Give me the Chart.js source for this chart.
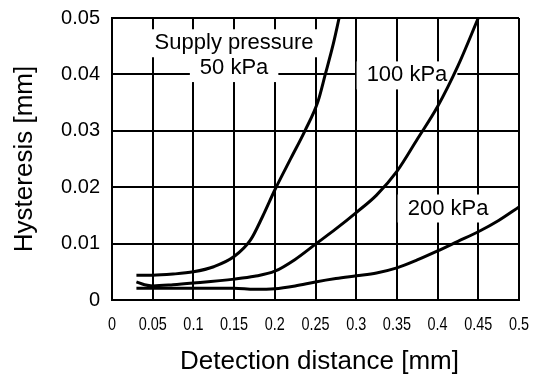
<!DOCTYPE html>
<html>
<head>
<meta charset="utf-8">
<script src="https://cdn.jsdelivr.net/npm/chart.js@4.4.1/dist/chart.umd.min.js"></script>
<style>
  html, body { margin: 0; padding: 0; background: #fff; }
  #wrap { width: 535px; height: 379px; }
</style>
</head>
<body>
<div id="wrap"><canvas id="hyst"></canvas></div>
<script>
// values (x = detection distance mm, y = hysteresis mm)
const x50  = [0.03, 0.05, 0.075, 0.1, 0.125, 0.15, 0.17, 0.185, 0.2, 0.22, 0.237, 0.253, 0.262, 0.272, 0.279];
const y50  = [0.0044, 0.0044, 0.0046, 0.0050, 0.0059, 0.0077, 0.0106, 0.0148, 0.0195, 0.0252, 0.030, 0.0352, 0.040, 0.0455, 0.050];

const x100 = [0.03, 0.04, 0.05, 0.075, 0.1, 0.15, 0.175, 0.2, 0.225, 0.25, 0.275, 0.3, 0.325, 0.35, 0.375, 0.4, 0.425, 0.45];
const y100 = [0.0032, 0.0027, 0.0025, 0.0027, 0.0030, 0.0037, 0.0042, 0.0051, 0.0072, 0.0099, 0.0126, 0.0155, 0.0186, 0.0228, 0.0285, 0.0343, 0.0415, 0.050];

const x200 = [0.03, 0.1, 0.15, 0.175, 0.2, 0.225, 0.25, 0.275, 0.3, 0.325, 0.35, 0.375, 0.4, 0.425, 0.45, 0.475, 0.5];
const y200 = [0.0021, 0.0021, 0.0021, 0.0019, 0.0020, 0.0025, 0.0032, 0.0038, 0.0043, 0.0048, 0.0057, 0.0071, 0.0087, 0.0104, 0.0121, 0.0141, 0.0165];

const xTickLabels = ['0', '0.05', '0.1', '0.15', '0.2', '0.25', '0.3', '0.35', '0.4', '0.45', '0.5'];
const yTickLabels = ['0', '0.01', '0.02', '0.03', '0.04', '0.05'];

const labelTexts = ['Supply pressure', '50 kPa', '100 kPa', '200 kPa'];
const labelX = [0.15, 0.15, 0.3624, 0.4128];
const labelY = [0.0457, 0.0413, 0.0400, 0.0164];

const xTitle = 'Detection distance [mm]';
const yTitle = 'Hysteresis [mm]';

function pts(xs, ys) {
  return xs.map((x, i) => ({ x: x, y: ys[i] }));
}

function curve(xs, ys) {
  return {
    data: pts(xs, ys),
    borderColor: '#000',
    borderWidth: 3,
    pointRadius: 0,
    fill: false,
    cubicInterpolationMode: 'monotone'
  };
}

// white boxed labels over the grid, under the curves
const boxLabels = {
  id: 'boxLabels',
  beforeDatasetsDraw(chart) {
    const ctx = chart.ctx;
    const sx = chart.scales.x, sy = chart.scales.y;
    ctx.save();
    ctx.font = '22px "Liberation Sans", Arial, sans-serif';
    ctx.textAlign = 'center';
    ctx.textBaseline = 'middle';
    labelTexts.forEach((t, i) => {
      const px = sx.getPixelForValue(labelX[i]);
      const py = sy.getPixelForValue(labelY[i]);
      const w = ctx.measureText(t).width;
      ctx.fillStyle = '#fff';
      ctx.fillRect(px - w / 2 - 10, py - 13, w + 20, 28);
    });
    labelTexts.forEach((t, i) => {
      const px = sx.getPixelForValue(labelX[i]);
      const py = sy.getPixelForValue(labelY[i]);
      ctx.fillStyle = '#000';
      ctx.fillText(t, px, py + 1);
    });
    ctx.restore();
  }
};

// condensed x tick labels + axis titles
const axisText = {
  id: 'axisText',
  afterDraw(chart) {
    const ctx = chart.ctx;
    const area = chart.chartArea;
    const sx = chart.scales.x;
    ctx.save();
    ctx.fillStyle = '#000';
    ctx.textAlign = 'center';
    ctx.textBaseline = 'middle';
    ctx.font = '19px "Liberation Sans", Arial, sans-serif';
    xTickLabels.forEach((l, i) => {
      ctx.save();
      ctx.translate(sx.getPixelForValue(i * 0.05), 325);
      ctx.scale(0.76, 1);
      ctx.fillText(l, 0, 0);
      ctx.restore();
    });
    ctx.font = '26px "Liberation Sans", Arial, sans-serif';
    ctx.fillText(xTitle, (area.left + area.right) / 2 + 4, 362);
    ctx.translate(25, (area.top + area.bottom) / 2);
    ctx.rotate(-Math.PI / 2);
    ctx.fillText(yTitle, 0, 0);
    ctx.restore();
  }
};

const config = {
  type: 'line',
  data: {
    datasets: [curve(x50, y50), curve(x100, y100), curve(x200, y200)]
  },
  options: {
    responsive: true,
    maintainAspectRatio: false,
    animation: false,
    layout: { padding: { top: 18, right: 16, left: 0, bottom: 0 } },
    plugins: {
      legend: { display: false },
      tooltip: { enabled: false }
    },
    scales: {
      x: {
        type: 'linear',
        min: 0,
        max: 0.5,
        afterBuildTicks: (s) => { s.ticks = xTickLabels.map((l, i) => ({ value: i * 0.05 })); },
        afterFit: (s) => { s.height = 79; s.paddingLeft = 0; s.paddingRight = 0; },
        border: { color: '#000', width: 2 },
        grid: { color: '#000', lineWidth: 2, drawTicks: false },
        ticks: { display: false }
      },
      y: {
        min: 0,
        max: 0.05,
        afterBuildTicks: (s) => { s.ticks = yTickLabels.map((l, i) => ({ value: i * 0.01 })); },
        afterFit: (s) => { s.width = 112; s.paddingTop = 0; s.paddingBottom = 0; },
        border: { color: '#000', width: 2 },
        grid: { color: '#000', lineWidth: 2, drawTicks: false },
        ticks: {
          color: '#000',
          padding: 12,
          font: { family: '"Liberation Sans", Arial, sans-serif', size: 20 },
          callback: (v, i) => yTickLabels[i]
        }
      }
    }
  },
  plugins: [boxLabels, axisText]
};

new Chart(document.getElementById('hyst'), config);
</script>
</body>
</html>
